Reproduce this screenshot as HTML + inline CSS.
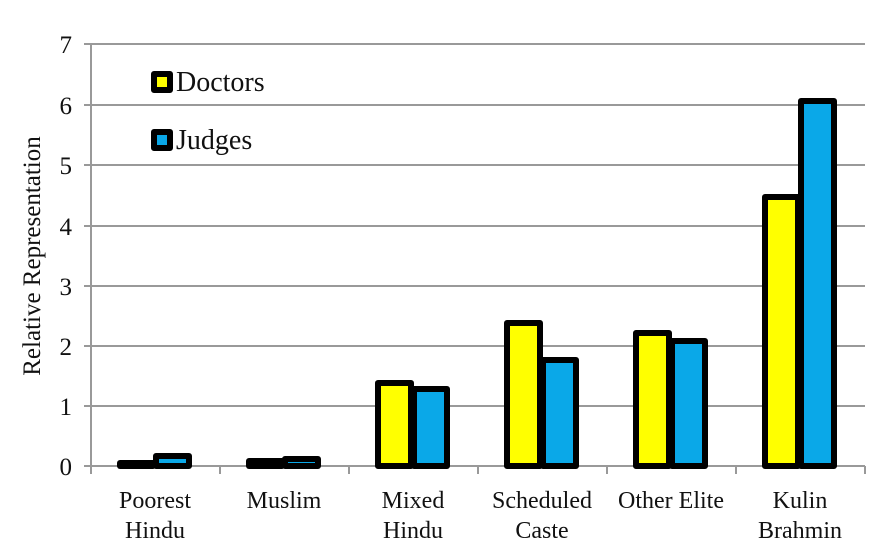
<!DOCTYPE html>
<html><head><style>body{margin:0;background:#fff}svg{display:block}text{font-family:"Liberation Serif",serif;fill:#111}</style></head>
<body>
<svg width="880" height="558" viewBox="0 0 880 558">
<g stroke="#999" stroke-width="2">
<line x1="84" y1="44" x2="865" y2="44"/><line x1="84" y1="105" x2="865" y2="105"/>
<line x1="84" y1="165" x2="865" y2="165"/><line x1="84" y1="226" x2="865" y2="226"/>
<line x1="84" y1="286" x2="865" y2="286"/><line x1="84" y1="346" x2="865" y2="346"/>
<line x1="84" y1="406" x2="865" y2="406"/><line x1="84" y1="466" x2="865" y2="466"/>
<line x1="91" y1="44" x2="91" y2="474"/>
<line x1="220" y1="466" x2="220" y2="474"/><line x1="349" y1="466" x2="349" y2="474"/>
<line x1="478" y1="466" x2="478" y2="474"/><line x1="607" y1="466" x2="607" y2="474"/>
<line x1="736" y1="466" x2="736" y2="474"/><line x1="865" y1="466" x2="865" y2="474"/>
</g>
<g stroke="#000" stroke-width="6" stroke-linejoin="round">
<rect x="120" y="463" width="33" height="3" fill="#ffff00"/>
<rect x="156" y="456" width="33" height="10" fill="#0aa8e8"/>
<rect x="249" y="461" width="33" height="5" fill="#ffff00"/>
<rect x="285" y="459" width="33" height="7" fill="#0aa8e8"/>
<rect x="378" y="383" width="33" height="83" fill="#ffff00"/>
<rect x="414" y="389" width="33" height="77" fill="#0aa8e8"/>
<rect x="507" y="323" width="33" height="143" fill="#ffff00"/>
<rect x="543" y="360" width="33" height="106" fill="#0aa8e8"/>
<rect x="636" y="333" width="33" height="133" fill="#ffff00"/>
<rect x="672" y="341" width="33" height="125" fill="#0aa8e8"/>
<rect x="765" y="197" width="33" height="269" fill="#ffff00"/>
<rect x="801" y="101" width="33" height="365" fill="#0aa8e8"/>
<rect x="154" y="74" width="16" height="16" fill="#ffff00"/>
<rect x="154" y="132" width="16" height="16" fill="#0aa8e8"/>
</g>
<g font-size="28"><text x="176" y="91">Doctors</text><text x="176" y="149">Judges</text></g>
<g font-size="25" text-anchor="end">
<text x="72" y="53">7</text><text x="72" y="114">6</text><text x="72" y="174">5</text><text x="72" y="235">4</text>
<text x="72" y="295">3</text><text x="72" y="355">2</text><text x="72" y="415">1</text><text x="72" y="475">0</text>
</g>
<text transform="translate(40,256) rotate(-90)" font-size="25" text-anchor="middle">Relative Representation</text>
<g font-size="24" text-anchor="middle">
<text x="155" y="508">Poorest</text><text x="155" y="538">Hindu</text>
<text x="284" y="508">Muslim</text>
<text x="413" y="508">Mixed</text><text x="413" y="538">Hindu</text>
<text x="542" y="508">Scheduled</text><text x="542" y="538">Caste</text>
<text x="671" y="508">Other Elite</text>
<text x="800" y="508">Kulin</text><text x="800" y="538">Brahmin</text>
</g>
</svg>
</body></html>
